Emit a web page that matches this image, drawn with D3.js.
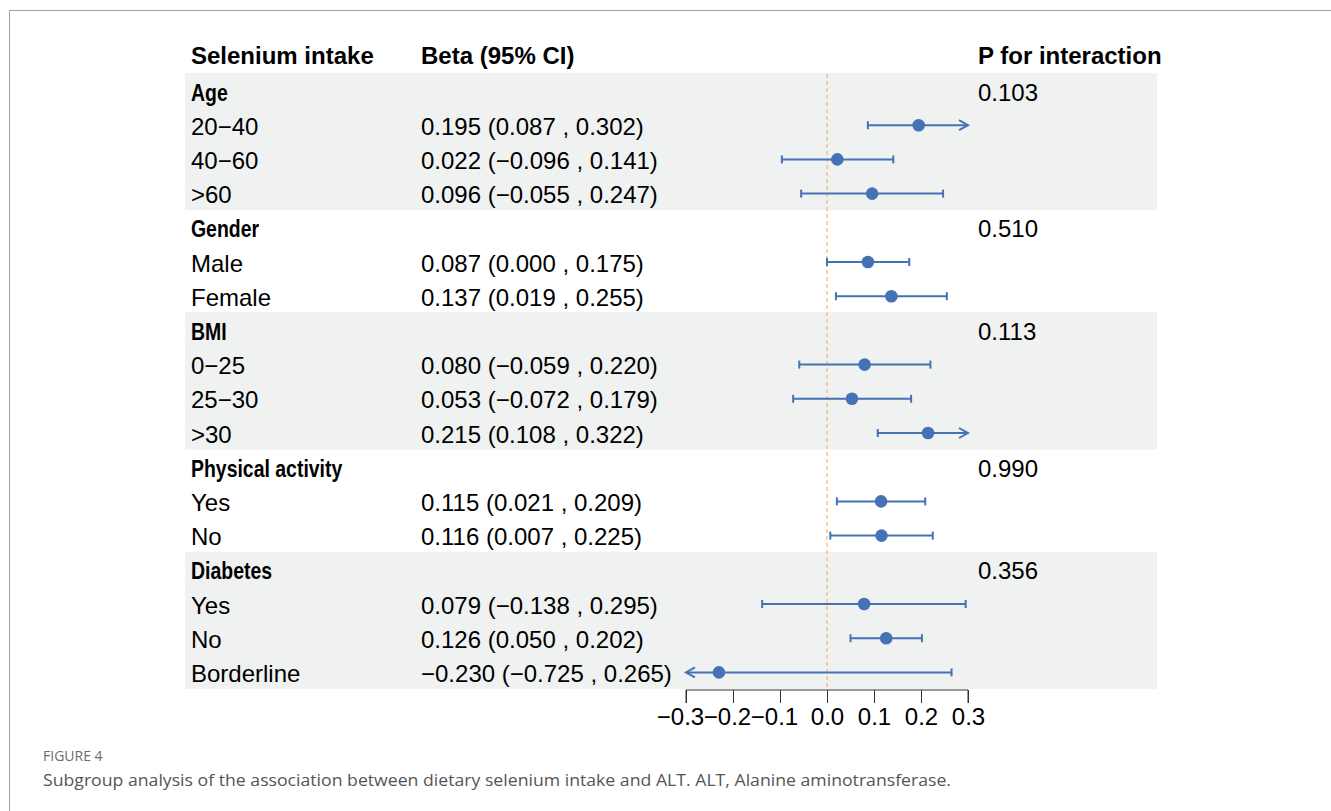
<!DOCTYPE html>
<html><head><meta charset="utf-8">
<script src="https://cdn.jsdelivr.net/npm/d3@7"></script>
<style>body{margin:0;background:#fff;} svg{display:block;}</style>
</head><body>
<svg id="c" width="1331" height="811"></svg>
<script>
// ---- data ----
const labels = ["Age","20−40","40−60",">60","Gender","Male","Female","BMI","0−25","25−30",">30","Physical activity","Yes","No","Diabetes","Yes","No","Borderline"];
const isGroup = [1,0,0,0,1,0,0,1,0,0,0,1,0,0,1,0,0,0];
const beta  = [null,0.195,0.022,0.096,null,0.087,0.137,null,0.080,0.053,0.215,null,0.115,0.116,null,0.079,0.126,-0.230];
const lower = [null,0.087,-0.096,-0.055,null,0.000,0.019,null,-0.059,-0.072,0.108,null,0.021,0.007,null,-0.138,0.050,-0.725];
const upper = [null,0.302,0.141,0.247,null,0.175,0.255,null,0.220,0.179,0.322,null,0.209,0.225,null,0.295,0.202,0.265];
const pInter = ["0.103","","","","0.510","","","0.113","","","","0.990","","","0.356","","",""];
const shaded = [1,1,1,1,0,0,0,1,1,1,1,0,0,0,1,1,1,1];
const xTicks = [-0.3,-0.2,-0.1,0.0,0.1,0.2,0.3];
const headers = ["Selenium intake","Beta (95% CI)","P for interaction"];

const fmt = v => (v<0?"−":"") + Math.abs(v).toFixed(3);
const ciText = i => beta[i]==null ? "" : `${fmt(beta[i])} (${fmt(lower[i])} , ${fmt(upper[i])})`;

const svg = d3.select("#c");
const FONT = "'Liberation Sans', Arial, sans-serif";
const FS = 24;
const blue = "#4472b5";

// frame
svg.append("line").attr("x1",9.5).attr("x2",1331).attr("y1",10.5).attr("y2",10.5).attr("stroke","#a0a0a0").attr("stroke-width",1);
svg.append("line").attr("x1",9.5).attr("x2",9.5).attr("y1",10.5).attr("y2",811).attr("stroke","#a0a0a0").attr("stroke-width",1);

const rowH = 34.2, row0 = 91;
const y = i => row0 + i*rowH;
const x = d3.scaleLinear().domain([-0.3,0.3]).range([686,968]);

// bands
labels.forEach((l,i)=>{
  if(shaded[i]) svg.append("rect").attr("x",185).attr("width",1157-185)
    .attr("y",y(i)-rowH/2-1).attr("height",rowH+0.5).attr("fill","#eff2f1");
});

// headers
const colX = [191,421,978];
headers.forEach((h,k)=>{
  svg.append("text").attr("x",colX[k]).attr("y",55).attr("dy","0.36em")
    .attr("font-family",FONT).attr("font-weight","bold").attr("font-size",FS).attr("fill","#000").text(h);
});

// reference line
svg.append("line").attr("x1",x(0)).attr("x2",x(0)).attr("y1",y(0)-rowH/2).attr("y2",y(17)+rowH/2)
  .attr("stroke","#f5b77e").attr("stroke-width",1.3).attr("stroke-dasharray","4,3");

// table text
labels.forEach((l,i)=>{
  const t = svg.append("text").attr("x",191).attr("y",y(i)+1).attr("dy","0.36em")
    .attr("font-family",FONT).attr("font-size",FS).attr("fill","#000").text(l);
  if(isGroup[i]){
    t.attr("font-weight","bold");
    const len = t.node().getComputedTextLength();
    t.attr("textLength",len*0.81).attr("lengthAdjust","spacingAndGlyphs");
  }
  svg.append("text").attr("x",421).attr("y",y(i)+1).attr("dy","0.36em")
    .attr("font-family",FONT).attr("font-size",FS).attr("fill","#000").text(ciText(i));
  svg.append("text").attr("x",978).attr("y",y(i)+1).attr("dy","0.36em")
    .attr("font-family",FONT).attr("font-size",FS).attr("fill","#000").text(pInter[i]);
});

// CIs
const [dmin,dmax] = x.domain();
labels.forEach((l,i)=>{
  if(beta[i]==null) return;
  const yy = y(i);
  const lo = Math.max(lower[i],dmin), hi = Math.min(upper[i],dmax);
  const g = svg.append("g").attr("stroke",blue).attr("stroke-width",2).attr("fill","none");
  g.append("line").attr("x1",x(lo)).attr("x2",x(hi)).attr("y1",yy).attr("y2",yy);
  if(lower[i]<dmin){
    g.append("path").attr("d",`M${x(dmin)+9},${yy-5}L${x(dmin)},${yy}L${x(dmin)+9},${yy+5}`);
  } else {
    g.append("line").attr("x1",x(lo)).attr("x2",x(lo)).attr("y1",yy-4).attr("y2",yy+4);
  }
  if(upper[i]>dmax){
    g.append("path").attr("d",`M${x(dmax)-9},${yy-5}L${x(dmax)},${yy}L${x(dmax)-9},${yy+5}`);
  } else {
    g.append("line").attr("x1",x(hi)).attr("x2",x(hi)).attr("y1",yy-4).attr("y2",yy+4);
  }
  svg.append("circle").attr("cx",x(beta[i])).attr("cy",yy).attr("r",6.3).attr("fill",blue);
});

// axis
const axisG = svg.append("g").attr("transform","translate(0,690)")
  .call(d3.axisBottom(x).tickValues(xTicks).tickSize(13).tickPadding(5)
    .tickFormat(d => (d<0?"−":"") + Math.abs(d).toFixed(1)));
axisG.select(".domain").attr("stroke","#333").attr("d",`M${x(dmin)},13V0H${x(dmax)}V13`);
axisG.selectAll(".tick line").attr("stroke","#333");
axisG.selectAll(".tick text").attr("font-family",FONT).attr("font-size",FS).attr("fill","#000")
  .attr("dx", d => d < 0 ? -6 : 0);

// caption
svg.append("text").attr("x",43).attr("y",761).attr("font-family","'Open Sans', sans-serif")
  .attr("font-size",14).attr("font-weight",500).attr("fill","#6b6b6b").text("FIGURE 4");
svg.append("text").attr("x",43).attr("y",786).attr("font-family","'Open Sans', sans-serif")
  .attr("font-size",17).attr("fill","#555").attr("textLength",908).attr("lengthAdjust","spacingAndGlyphs")
  .text("Subgroup analysis of the association between dietary selenium intake and ALT. ALT, Alanine aminotransferase.");
</script>
</body></html>
